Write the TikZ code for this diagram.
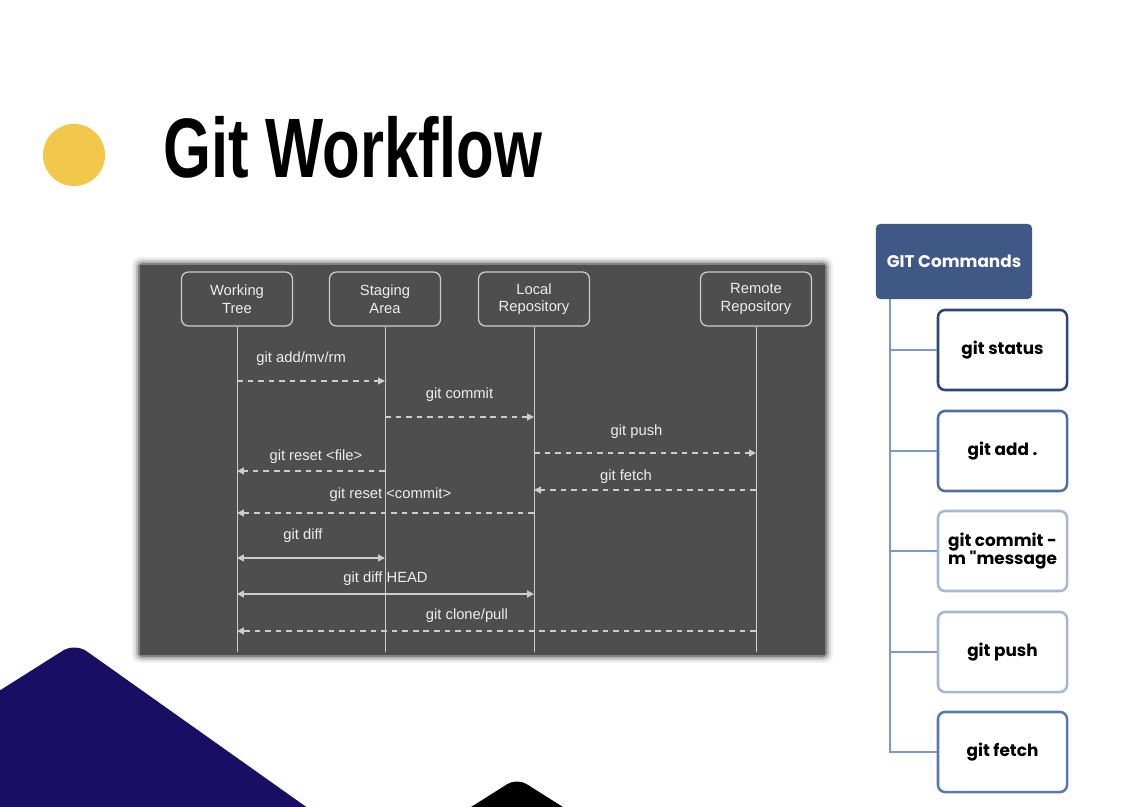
\documentclass[tikz,border=0pt]{standalone}
\usepackage{fontspec}
\setmainfont{Liberation Sans}
\newfontfamily\cmdfont{Poppins}
\usetikzlibrary{positioning,arrows.meta}
\definecolor{panelgray}{RGB}{78,78,78}
\definecolor{linegray}{RGB}{205,205,205}
\definecolor{textgray}{RGB}{238,238,238}
\definecolor{sunny}{RGB}{242,200,75}
\definecolor{navyshape}{RGB}{24,14,99}
\definecolor{slate}{RGB}{63,88,133}
\definecolor{treeblue}{RGB}{125,152,205}
\definecolor{bordA}{RGB}{45,70,115}
\definecolor{bordB}{RGB}{82,110,165}
\definecolor{bordC}{RGB}{168,182,212}
\definecolor{bordD}{RGB}{88,122,180}

\begin{document}
\begin{tikzpicture}[x=0.025cm, y=-0.025cm, every node/.style={font=\fontsize{10.5}{12.5}\selectfont, align=center, text=textgray},
  caja/.style={draw=linegray, line width=0.9pt, rounded corners=5pt, minimum width=2.775cm, minimum height=1.35cm},
  vida/.style={draw=linegray, line width=0.7pt},
  mensaje/.style={draw=linegray, line width=0.9pt, dash pattern=on 4pt off 3.5pt, -{Triangle[length=1.7mm, width=1.7mm]}},
  ambos/.style={draw=linegray, line width=0.9pt, {Triangle[length=1.7mm, width=1.7mm]}-{Triangle[length=1.7mm, width=1.7mm]}},
  cmd/.style={draw, fill=white, line width=1.8pt, rounded corners=5pt, minimum width=3.225cm, minimum height=2cm, text=black, font=\cmdfont\bfseries\fontsize{12}{13}\selectfont},
  rama/.style={draw=treeblue, line width=2pt}]
\useasboundingbox[fill=white] (0,0) rectangle (1123,807);

% fondo
\fill[navyshape, rounded corners=10pt] (-20,703) -- (75,643) -- (367,850) -- (-20,850) -- cycle;
\fill[black, rounded corners=8pt] (403,850) -- (517,778) -- (631,850) -- cycle;
\fill[sunny] (74,155) circle[radius=31];
\node[anchor=base west, inner sep=0, text=black] (titulo) at (163,178)
  {\scalebox{0.73}[1]{\fontsize{60}{60}\selectfont\bfseries Git Workflow}};

% panel con borde difuso
\fill[panelgray!8, rounded corners=6pt] (132,257) rectangle (833,663);
\fill[panelgray!20, rounded corners=5pt] (134,259) rectangle (831,661);
\fill[panelgray!40, rounded corners=4pt] (136,261) rectangle (829,659);
\fill[panelgray!70, rounded corners=3pt] (138,263) rectangle (827,657);
\fill[panelgray] (140,265) rectangle (825,655);

\node[caja] (wt) at (237,299) {Working\\Tree};
\node[caja] (sa) at (385,299) {Staging\\Area};
\node[caja] (lr) at (534,299) {Local\\Repository};
\node[caja] (rr) at (756,299) {Remote\\Repository};
\draw[vida] (wt) -- (wt |- 0,652); \draw[vida] (sa) -- (sa |- 0,652);
\draw[vida] (lr) -- (lr |- 0,652); \draw[vida] (rr) -- (rr |- 0,652);

\draw[mensaje] (wt |- 0,381) -- node[midway, yshift=15.6pt, xshift=-7pt] {git add/mv/rm} (sa |- 0,381);
\draw[mensaje] (sa |- 0,417) -- node[midway, yshift=15.6pt] {git commit} (lr |- 0,417);
\draw[mensaje] (lr |- 0,453) -- node[midway, yshift=14.9pt, xshift=-6pt] {git push} (rr |- 0,453);
\draw[mensaje] (sa |- 0,471) -- node[midway, yshift=10pt, xshift=3.5pt] {git reset <file>} (wt |- 0,471);
\draw[mensaje] (rr |- 0,490) -- node[midway, yshift=9.2pt, xshift=-13.5pt] {git fetch} (lr |- 0,490);
\draw[mensaje] (lr |- 0,513) -- node[midway, yshift=12.8pt, xshift=3.5pt] {git reset <commit>} (wt |- 0,513);
\draw[ambos] (wt |- 0,558) -- node[midway, yshift=15.6pt, xshift=-5.7pt] {git diff} (sa |- 0,558);
\draw[ambos] (wt |- 0,594) -- node[midway, yshift=10.6pt] {git diff HEAD} (lr |- 0,594);
\draw[mensaje] (rr |- 0,631) -- node[midway, yshift=10.6pt, xshift=-21pt] {git clone/pull} (wt |- 0,631);

% comandos
\node[fill=slate, rounded corners=3pt, minimum width=3.9cm, minimum height=1.875cm, text=white, font=\cmdfont\bfseries\fontsize{12}{13}\selectfont] (gc) at (954,261.5) {GIT Commands};
\coordinate (tronco) at (890,299);
\node[cmd, draw=bordA] (st) at (1002.5,350) {git status};
\node[cmd, draw=bordB] (ad) at (1002.5,451) {git add .};
\node[cmd, draw=bordC] (cm) at (1002.5,551) {git commit -\\m "message};
\node[cmd, draw=bordC] (pu) at (1002.5,652) {git push};
\node[cmd, draw=bordD] (fe) at (1002.5,752) {git fetch};
\draw[rama] (tronco) |- (st); \draw[rama] (tronco) |- (ad); \draw[rama] (tronco) |- (cm);
\draw[rama] (tronco) |- (pu); \draw[rama] (tronco) |- (fe);
\end{tikzpicture}
\end{document}
